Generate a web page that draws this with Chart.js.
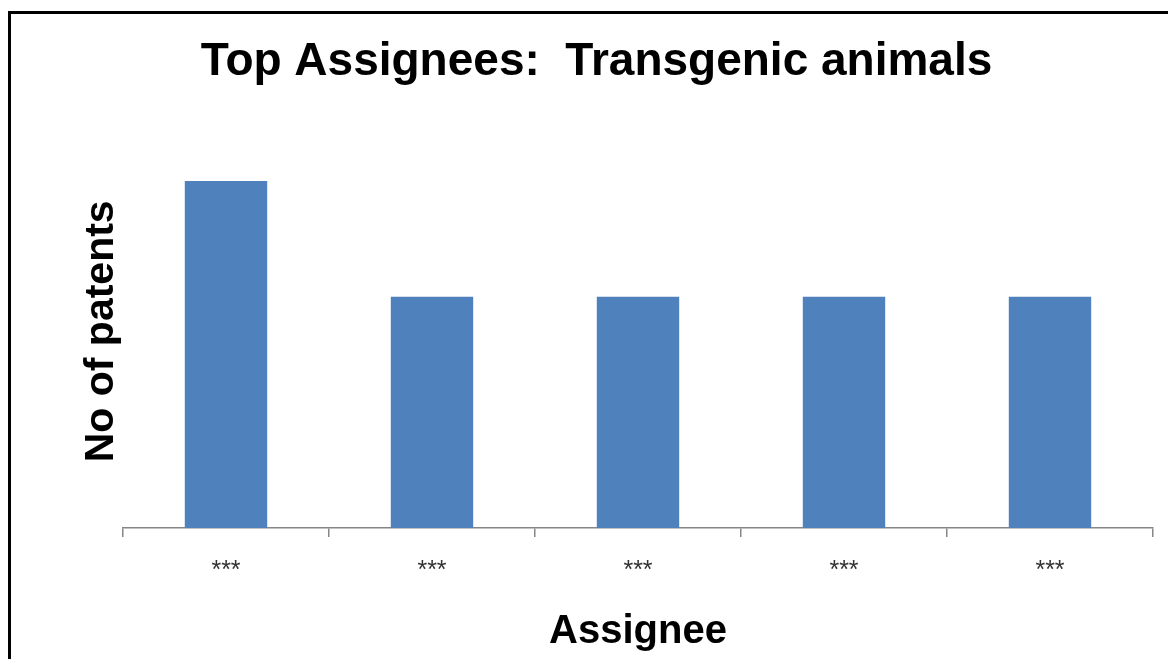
<!DOCTYPE html>
<html>
<head>
<meta charset="utf-8">
<script src="https://cdn.jsdelivr.net/npm/chart.js@4/dist/chart.umd.min.js"></script>
<style>
  html, body { margin: 0; padding: 0; background: #fff; overflow: hidden; }
  #wrap { position: relative; width: 1168px; height: 659px; }
  #frame {
    position: absolute; left: 8px; top: 11px; width: 1200px; height: 700px;
    border-left: 3px solid #000; border-top: 3px solid #000; pointer-events: none;
  }
</style>
</head>
<body>
<div id="wrap">
  <canvas id="grafico" width="1168" height="659"></canvas>
  <div id="frame"></div>
</div>
<script>
const categorias = ['***', '***', '***', '***', '***'];
const patentes = [3, 2, 2, 2, 2];

const ctx = document.getElementById('grafico').getContext('2d');

const config = {
    type: 'bar',
    data: {
        labels: categorias,
        datasets: [{
            label: 'No of patents',
            data: patentes,
            backgroundColor: '#4f81bd',
            borderWidth: 0,
            barPercentage: 0.4,
            categoryPercentage: 1.0
        }]
    },
    options: {
        responsive: false,
        animation: false,
        devicePixelRatio: 1,
        layout: { padding: { left: 40, right: 15, top: 0, bottom: 0 } },
        plugins: {
            legend: { display: false },
            tooltip: { enabled: false },
            title: {
                display: true,
                text: 'Top Assignees:  Transgenic animals',
                color: '#000',
                font: { family: 'Liberation Sans, Arial, sans-serif', size: 46, weight: 'bold', lineHeight: 1.2 },
                padding: { top: 35, bottom: 33 }
            }
        },
        scales: {
            x: {
                grid: { display: true, drawOnChartArea: false, drawTicks: true, tickLength: 9, color: '#868686', lineWidth: 1.5 },
                border: { display: true, color: '#868686', width: 1.5 },
                ticks: { color: '#333', padding: 19, font: { family: 'Liberation Sans, Arial, sans-serif', size: 25 } },
                title: {
                    display: true,
                    text: 'Assignee',
                    color: '#000',
                    font: { family: 'Liberation Sans, Arial, sans-serif', size: 40, weight: 'bold', lineHeight: 1.2 },
                    padding: { top: 0, bottom: 3 }
                },
                afterFit: (scale) => { scale.height = 131; }
            },
            y: {
                min: 0,
                max: 3.5,
                grid: { display: false },
                border: { display: false },
                ticks: { display: false },
                title: {
                    display: true,
                    text: 'No of patents ',
                    color: '#000',
                    font: { family: 'Liberation Sans, Arial, sans-serif', size: 41, weight: 'bold', lineHeight: 1.2 },
                    padding: { top: 37, bottom: 0 }
                },
                afterFit: (scale) => { scale.width = 83; }
            }
        }
    }
};

const grafico = new Chart(ctx, config);
</script>
</body>
</html>
